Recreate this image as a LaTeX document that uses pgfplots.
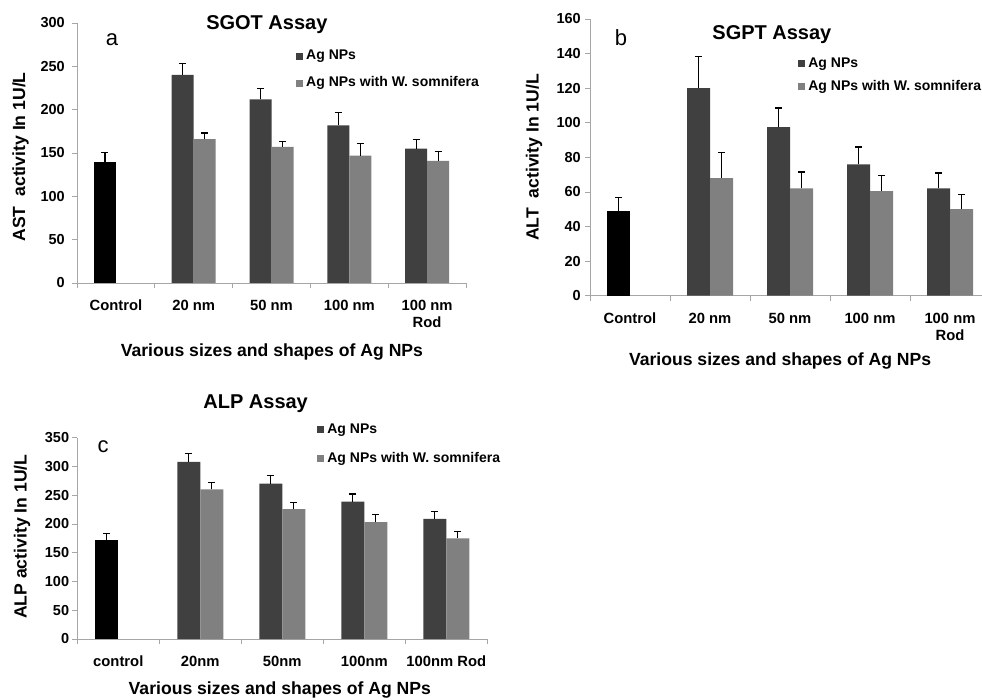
\documentclass[border=0pt]{standalone}
\usepackage{fontspec}
\setmainfont{Liberation Sans}
\usepackage{pgfplots}
\pgfplotsset{compat=1.18}
\definecolor{darkbar}{HTML}{404040}
\definecolor{lightbar}{HTML}{808080}
\definecolor{axgray}{HTML}{A6A6A6}
\pgfplotsset{
  panel/.style={
    scale only axis,
    clip=false,
    axis x line*=bottom, axis y line*=left,
    axis line style={axgray, line width=0.8pt, -},
    xmin=-0.5, ymin=0,
    xtick={0,1,2,3,4},
    major x tick style={draw=none},
    minor xtick={-0.5,0.5,1.5,2.5,3.5,4.5},
    minor x tick style={axgray, line width=0.8pt},
    minor tick length=5pt,
    ytick style={axgray, line width=0.8pt},
    major tick length=5pt,
    tick align=outside,
    /pgf/number format/assume math mode=true,
    yticklabel style={font=\fontsize{14.5}{16}\selectfont\bfseries, inner sep=0pt},
    xticklabel style={font=\fontsize{14.8}{17}\selectfont\bfseries, align=center, anchor=north, inner sep=0pt, yshift=-12pt},
    title style={anchor=center, yshift=-8.5pt, font=\fontsize{20}{22}\selectfont\bfseries},
    xlabel style={anchor=center, yshift=-1.5pt, font=\fontsize{17.6}{20}\selectfont\bfseries},
    ylabel style={anchor=center, font=\fontsize{17.6}{20}\selectfont\bfseries},
    legend image code/.code={\fill[##1] (0pt,-3.5pt) rectangle (7pt,3.5pt);},
    legend cell align=left,
    legend style={draw=none, fill=none, inner sep=0pt, anchor=north west,
      font=\fontsize{14}{16}\selectfont\bfseries,
      nodes={inner sep=0pt, text height=10pt, text depth=3pt},
      /tikz/every odd column/.append style={column sep=3pt}},
    err/.style={error bars/.cd, y dir=plus, y explicit, error mark=-,
      error bar style={black, line width=1.2pt},
      error mark options={black, line width=1.2pt, mark size=3.5pt, rotate=90}},
  }
}
\begin{document}
\begin{tikzpicture}[x=1pt,y=1pt]
\path[use as bounding box] (0,0) rectangle (982,699);
% ---------- panel a ----------
\begin{axis}[panel, at={(77pt,416pt)}, anchor=south west, width=389pt, height=260pt,
  xmax=4.5, ymax=300, ytick={0,50,...,300}, bar width=22pt,
  yticklabel style={xshift=-7pt},
  xticklabels={Control,20 nm,50 nm,100 nm,{100 nm\\Rod}},
  title={SGOT Assay}, title style={at={(axis description cs:0.488,1.004)}},
  xlabel={Various sizes and shapes of Ag NPs}, xlabel style={at={(axis description cs:0.501,-0.26)}},
  ylabel={AST\ \ activity In 1U/L}, ylabel style={at={(axis description cs:-0.145,0.485)}},
  legend style={at={(axis description cs:0.563,0.898)}, row sep=14pt}]
\addplot[ybar, forget plot, bar shift=0pt, fill=black, draw=none, err] coordinates {(-0.1414,140) +- (0,11)};
\addplot[ybar, forget plot, bar shift=0pt, fill=darkbar, draw=none, err] coordinates {(0.8586,240) +- (0,13) (1.8586,212) +- (0,12) (2.8586,182) +- (0,15) (3.8586,155) +- (0,11)};
\addplot[ybar, forget plot, bar shift=0pt, fill=lightbar, draw=none, err] coordinates {(1.1414,166) +- (0,7) (2.1414,157) +- (0,6) (3.1414,147) +- (0,14) (4.1414,141) +- (0,11)};
\addlegendimage{fill=darkbar, draw=none}\addlegendentry{Ag NPs}
\addlegendimage{fill=lightbar, draw=none}\addlegendentry{Ag NPs with W. somnifera}
\node[font=\fontsize{22}{24}\selectfont] at (axis description cs:0.09,0.935) {a};
\end{axis}
% ---------- panel b ----------
\begin{axis}[panel, at={(590pt,403.3pt)}, anchor=south west, width=392pt, height=276.7pt,
  xmax=4.4, ymax=160, ytick={0,20,...,160}, bar width=23pt,
  yticklabel style={xshift=-4pt},
  xticklabels={Control,20 nm,50 nm,100 nm,{100 nm\\Rod}},
  title={SGPT Assay}, title style={at={(axis description cs:0.464,0.953)}},
  xlabel={Various sizes and shapes of Ag NPs}, xlabel style={at={(axis description cs:0.485,-0.229)}},
  ylabel={ALT\ \ activity In 1U/L}, ylabel style={at={(axis description cs:-0.143,0.5)}},
  legend style={at={(axis description cs:0.531,0.863)}, row sep=10.3pt}]
\addplot[ybar, forget plot, bar shift=0pt, fill=black, draw=none, err] coordinates {(-0.1438,49) +- (0,8)};
\addplot[ybar, forget plot, bar shift=0pt, fill=darkbar, draw=none, err] coordinates {(0.8562,120) +- (0,18.5) (1.8562,97.5) +- (0,11) (2.8562,76) +- (0,10) (3.8562,62) +- (0,9)};
\addplot[ybar, forget plot, bar shift=0pt, fill=lightbar, draw=none, err] coordinates {(1.1438,68) +- (0,15) (2.1438,62) +- (0,9.5) (3.1438,60.5) +- (0,9) (4.1438,50) +- (0,8.5)};
\addlegendimage{fill=darkbar, draw=none}\addlegendentry{Ag NPs}
\addlegendimage{fill=lightbar, draw=none}\addlegendentry{Ag NPs with W. somnifera}
\node[font=\fontsize{22}{24}\selectfont] at (axis description cs:0.079,0.931) {b};
\end{axis}
% ---------- panel c ----------
\begin{axis}[panel, at={(77.3pt,60pt)}, anchor=south west, width=410pt, height=201.3pt,
  xmax=4.5, ymax=350, ytick={0,50,...,350}, bar width=23pt,
  yticklabel style={xshift=-3pt},
  xticklabels={control,20nm,50nm,100nm,100nm Rod},
  title={ALP Assay}, title style={at={(axis description cs:0.435,1.179)}},
  xlabel={Various sizes and shapes of Ag NPs}, xlabel style={at={(axis description cs:0.494,-0.245)}},
  ylabel={ALP activity In 1U/L}, ylabel style={at={(axis description cs:-0.135,0.508)}},
  legend style={at={(axis description cs:0.585,1.072)}, row sep=16pt}]
\addplot[ybar, forget plot, bar shift=0pt, fill=black, draw=none, err] coordinates {(-0.1402,173) +- (0,11)};
\addplot[ybar, forget plot, bar shift=0pt, fill=darkbar, draw=none, err] coordinates {(0.8598,308) +- (0,15) (1.8598,270) +- (0,14) (2.8598,239) +- (0,13) (3.8598,209) +- (0,12)};
\addplot[ybar, forget plot, bar shift=0pt, fill=lightbar, draw=none, err] coordinates {(1.1402,260) +- (0,12) (2.1402,226) +- (0,12) (3.1402,203) +- (0,13) (4.1402,175) +- (0,12)};
\addlegendimage{fill=darkbar, draw=none}\addlegendentry{Ag NPs}
\addlegendimage{fill=lightbar, draw=none}\addlegendentry{Ag NPs with W. somnifera}
\node[font=\fontsize{22}{24}\selectfont] at (axis description cs:0.063,0.954) {c};
\end{axis}
\end{tikzpicture}
\end{document}
